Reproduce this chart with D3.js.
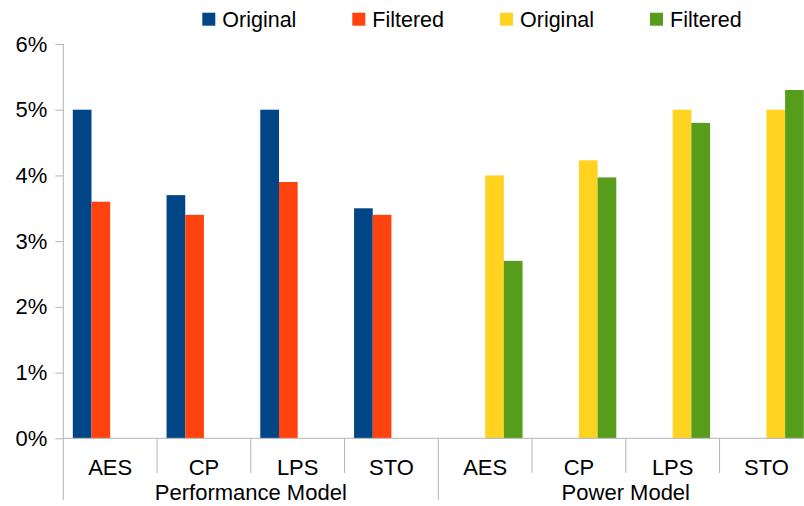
<!DOCTYPE html>
<html>
<head>
<meta charset="utf-8">
<script src="https://cdn.jsdelivr.net/npm/d3@7"></script>
<style>
  html, body { margin: 0; padding: 0; background: #fff; }
  svg { display: block; font-family: "Liberation Sans", Arial, sans-serif; }
</style>
</head>
<body>
<svg id="chart" width="804" height="506"></svg>
<script>
// Category labels along the x axis (two groups of four)
const categories = ["AES", "CP", "LPS", "STO", "AES", "CP", "LPS", "STO"];
const groups = ["Performance Model", "Power Model"];
const groupSize = 4;

// Series values in percent; null where a series has no bar in that category
const perfOriginal  = [5.0, 3.7, 5.0, 3.5, null, null, null, null];
const perfFiltered  = [3.6, 3.4, 3.9, 3.4, null, null, null, null];
const powerOriginal = [null, null, null, null, 4.0, 4.23, 5.0, 5.0];
const powerFiltered = [null, null, null, null, 2.7, 3.97, 4.8, 5.3];

const seriesNames = ["Original", "Filtered", "Original", "Filtered"];
const seriesColors = ["#004586", "#ff420e", "#ffd320", "#579d1c"];
const yTicks = [0, 1, 2, 3, 4, 5, 6];

const series = [perfOriginal, perfFiltered, powerOriginal, powerFiltered];

const svg = d3.select("#chart");
const plotLeft = 63.3, bandW = 93.75;
const plotTop = 44, plotBottom = 438.3;

const x0 = d3.scaleBand()
  .domain(d3.range(categories.length))
  .range([plotLeft, plotLeft + bandW * categories.length])
  .paddingInner(0).paddingOuter(0);

const x1 = d3.scaleBand()
  .domain(d3.range(series.length))
  .range([9.5, x0.bandwidth() - 9.5])
  .padding(0);

const y = d3.scaleLinear().domain([0, 6]).range([plotBottom, plotTop]);

const axisColor = "#b3b3b3";

// Bars
series.forEach((vals, si) => {
  svg.append("g")
    .selectAll("rect")
    .data(vals.map((v, i) => ({ v, i })).filter(d => d.v !== null))
    .join("rect")
    .attr("x", d => x0(d.i) + x1(si))
    .attr("width", x1.bandwidth())
    .attr("y", d => y(d.v))
    .attr("height", d => y(0) - y(d.v))
    .attr("fill", seriesColors[si]);
});

// Y axis
const yAxis = d3.axisLeft(y)
  .tickValues(yTicks)
  .tickFormat(d => d + "%")
  .tickSize(8)
  .tickPadding(8);

const yg = svg.append("g")
  .attr("transform", `translate(${plotLeft},0)`)
  .call(yAxis);
yg.select(".domain").remove();
yg.selectAll(".tick line").attr("stroke", axisColor);
yg.selectAll(".tick text")
  .attr("fill", "#000")
  .style("font-size", "22px")
  .style("font-family", "'Liberation Sans', Arial, sans-serif");

// Vertical axis line, continued below the baseline as the outer separator
svg.append("line")
  .attr("x1", plotLeft).attr("x2", plotLeft)
  .attr("y1", plotTop).attr("y2", 500)
  .attr("stroke", axisColor);

// X axis baseline
svg.append("line")
  .attr("x1", plotLeft).attr("x2", plotLeft + bandW * categories.length)
  .attr("y1", plotBottom).attr("y2", plotBottom)
  .attr("stroke", axisColor);

// Category separators: short within a group, long between groups
d3.range(1, categories.length + 1).forEach(i => {
  const xx = x0.range()[0] + i * x0.bandwidth();
  const isGroupEdge = i % groupSize === 0;
  svg.append("line")
    .attr("x1", xx).attr("x2", xx)
    .attr("y1", plotBottom).attr("y2", isGroupEdge ? 500 : 473)
    .attr("stroke", axisColor);
});

// Category labels
svg.append("g")
  .selectAll("text")
  .data(categories)
  .join("text")
  .attr("x", (d, i) => x0(i) + x0.bandwidth() / 2)
  .attr("y", 475)
  .attr("text-anchor", "middle")
  .attr("fill", "#000")
  .style("font-size", "22px")
  .text(d => d);

// Group labels
svg.append("g")
  .selectAll("text")
  .data(groups)
  .join("text")
  .attr("x", (d, gi) => (x0(gi * groupSize) + x0(gi * groupSize + groupSize - 1) + x0.bandwidth()) / 2)
  .attr("y", 500)
  .attr("text-anchor", "middle")
  .attr("fill", "#000")
  .style("font-size", "22px")
  .text(d => d);

// Legend
const legendX = [202.3, 352.3, 500, 650];
const legend = svg.append("g")
  .selectAll("g")
  .data(seriesNames)
  .join("g")
  .attr("transform", (d, i) => `translate(${legendX[i]},0)`);
legend.append("rect")
  .attr("x", 0).attr("y", 12.7)
  .attr("width", 13).attr("height", 13)
  .attr("fill", (d, i) => seriesColors[i]);
legend.append("text")
  .attr("x", 20).attr("y", 26.5)
  .attr("fill", "#000")
  .style("font-size", "21.5px")
  .text(d => d);
</script>
</body>
</html>
